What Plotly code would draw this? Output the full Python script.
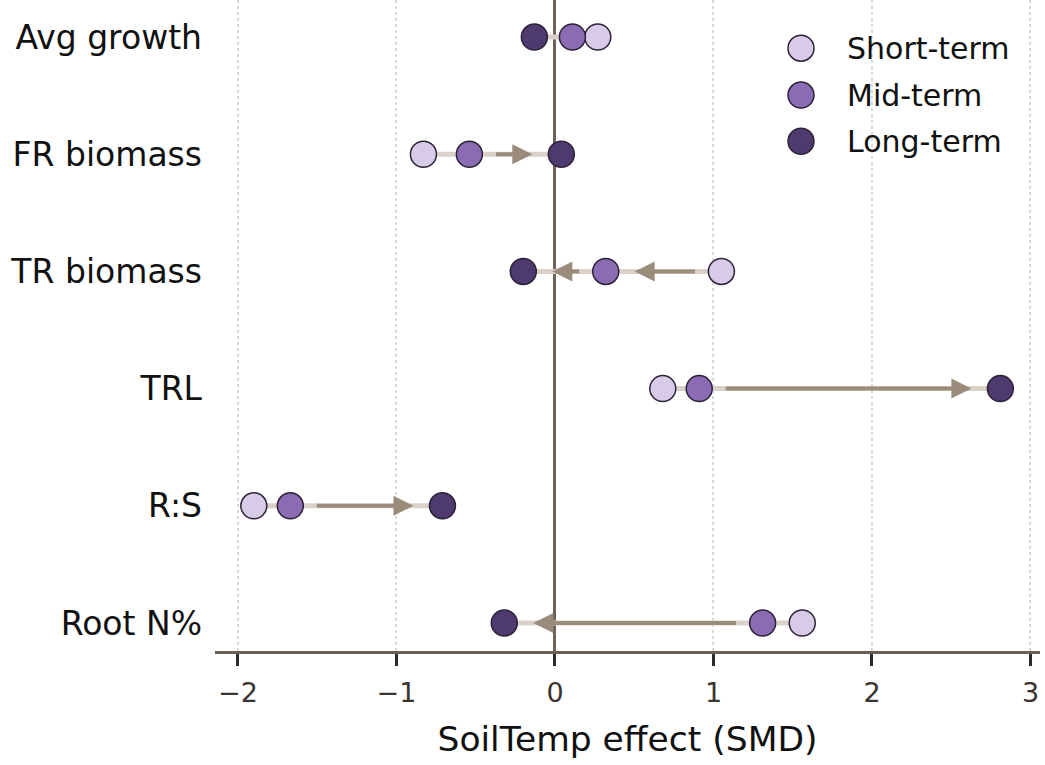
import plotly.graph_objects as go

categories = ["Avg growth", "FR biomass", "TR biomass", "TRL", "R:S", "Root N%"]
short_term = [0.27, -0.83, 1.05, 0.68, -1.90, 1.56]
mid_term = [0.11, -0.54, 0.32, 0.91, -1.67, 1.31]
long_term = [-0.13, 0.04, -0.20, 2.81, -0.71, -0.32]
x_ticks = [-2, -1, 0, 1, 2, 3]
x_tick_labels = ["\u22122", "\u22121", "0", "1", "2", "3"]
series_names = ["Short-term", "Mid-term", "Long-term"]
series_colors = ["#d8cbe8", "#8b6bb3", "#4e3a6f"]

FONT = "DejaVu Sans"
EDGE = "#2c2338"
ARROW = "#9b8b7b"
BG_LINE = "#dad2c8"

fig = go.Figure()

# background connector lines
bx, by = [], []
for c, s, m, l in zip(categories, short_term, mid_term, long_term):
    vals = [s, m, l]
    bx += [min(vals), max(vals), None]
    by += [c, c, None]
fig.add_trace(go.Scatter(x=bx, y=by, mode="lines",
                         line=dict(color=BG_LINE, width=5),
                         hoverinfo="skip", showlegend=False))

# markers
for name, vals, col in zip(series_names, [short_term, mid_term, long_term], series_colors):
    fig.add_trace(go.Scatter(x=vals, y=categories, mode="markers", name=name,
                             marker=dict(size=26, color=col,
                                         line=dict(color=EDGE, width=1.5)),
                             showlegend=False))

# arrows
annotations = []
for c, s, m, l in zip(categories, short_term, mid_term, long_term):
    for a, b in [(s, m), (m, l)]:
        annotations.append(dict(x=b, y=c, ax=a, ay=c, xref="x", yref="y",
                                axref="x", ayref="y", text="", showarrow=True,
                                arrowhead=2, arrowsize=1.0, arrowwidth=4,
                                arrowcolor=ARROW, standoff=29, startstandoff=25))

# manual legend
leg_y = [0.926, 0.854, 0.783]
shapes = []
for name, col, yy in zip(series_names, series_colors, leg_y):
    shapes.append(dict(type="circle", xref="paper", yref="paper",
                       xsizemode="pixel", ysizemode="pixel",
                       xanchor=0.7103, yanchor=yy, x0=-13, x1=13, y0=-13, y1=13,
                       fillcolor=col, line=dict(color=EDGE, width=1.5)))
    annotations.append(dict(x=0.7636, y=yy, xref="paper", yref="paper",
                            xanchor="left", yanchor="middle", text=name,
                            showarrow=False,
                            font=dict(family=FONT, size=30, color="#111111")))

fig.update_layout(
    width=1045, height=765,
    margin=dict(l=215, r=5, t=0, b=114),
    plot_bgcolor="white", paper_bgcolor="white",
    font=dict(family=FONT),
    annotations=annotations, shapes=shapes,
    showlegend=False,
)
fig.update_xaxes(
    range=[-2.145, 3.06], tickvals=x_ticks, ticktext=x_tick_labels,
    showgrid=True, gridcolor="#d9d9d9", griddash="dot", gridwidth=1.5,
    zeroline=True, zerolinecolor="#6f6358", zerolinewidth=2.5,
    showline=True, linecolor="#6b5e54", linewidth=3,
    ticks="outside", ticklen=12, tickwidth=2.5, tickcolor="#2f2a26",
    ticklabelstandoff=4,
    tickfont=dict(family=FONT, size=27, color="#3a3430"),
    title=dict(text="SoilTemp effect (SMD)", standoff=20,
               font=dict(family=FONT, size=34.5, color="#111111")),
)
fig.update_yaxes(
    type="category", categoryorder="array", categoryarray=categories[::-1],
    range=[-0.239, 5.316], showgrid=False, zeroline=False, showline=False,
    ticks="", ticklabelstandoff=12,
    tickfont=dict(family=FONT, size=33, color="#111111"),
)

fig.write_html("out.html")
